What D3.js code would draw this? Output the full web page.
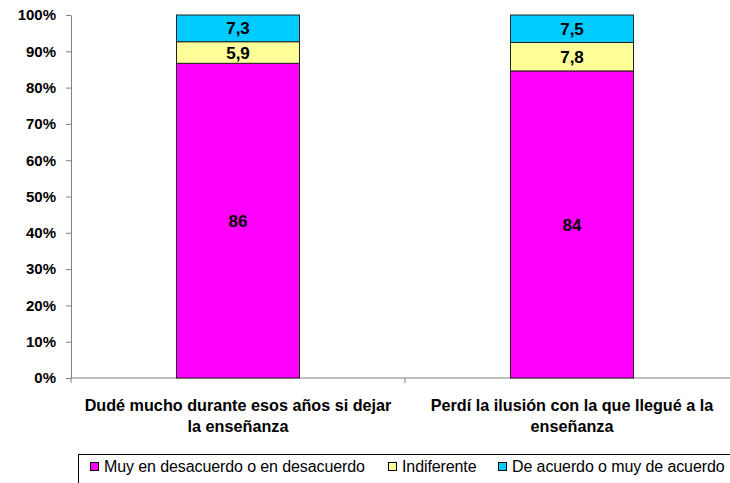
<!DOCTYPE html>
<head>
<meta charset="utf-8">
<style>
body { margin: 0; background: #fff; }
svg { display: block; font-family: "Liberation Sans", Arial, sans-serif; }
.axis path, .axis line { stroke: #808080; }
.axis text { font-weight: bold; font-size: 15px; fill: #000; }
</style>
</head>
<body>
<svg width="730" height="483"></svg>
<script src="https://d3js.org/d3.v7.min.js"></script>
<script>
var categories = [
  ["Dudé mucho durante esos años si dejar", "la enseñanza"],
  ["Perdí la ilusión con la que llegué a la", "enseñanza"]
];
var seriesNames = ["Muy en desacuerdo o en desacuerdo", "Indiferente", "De acuerdo o muy de acuerdo"];
var desacuerdo = [86, 84];
var indiferente = [5.9, 7.8];
var acuerdo = [7.3, 7.5];
var valueLabels = [["86", "84"], ["5,9", "7,8"], ["7,3", "7,5"]];
var colours = ["#FF00FF", "#FFFF99", "#00CCFF"];
var yTicks = [0, 0.1, 0.2, 0.3, 0.4, 0.5, 0.6, 0.7, 0.8, 0.9, 1];

var svg = d3.select("svg");
var plotLeft = 71, plotRight = 739, plotTop = 15, plotBottom = 378;

var rows = categories.map(function(c, i){
  return {i: i, s0: desacuerdo[i], s1: indiferente[i], s2: acuerdo[i]};
});
// 100% stacked: each bar normalised to its total
var stack = d3.stack().keys(["s0", "s1", "s2"]).offset(d3.stackOffsetExpand);
var layers = stack(rows);

var x = d3.scaleBand().domain([0, 1]).range([plotLeft, plotRight]);
var y = d3.scaleLinear().domain([0, 1]).range([plotBottom, plotTop]);
var barW = 123;

// y axis
svg.append("g")
  .attr("class", "axis")
  .attr("transform", "translate(" + plotLeft + ",0)")
  .call(d3.axisLeft(y).tickValues(yTicks).tickSize(5).tickSizeOuter(0).tickPadding(10).tickFormat(d3.format(".0%")));

// x axis with tick marks between categories
var xa = svg.append("g").attr("class", "axis");
xa.append("line").attr("x1", plotLeft).attr("x2", plotRight).attr("y1", plotBottom).attr("y2", plotBottom);
[plotLeft, x(1), plotRight].forEach(function(p){
  xa.append("line").attr("x1", p).attr("x2", p).attr("y1", plotBottom).attr("y2", plotBottom + 5);
});

// bars
var layer = svg.selectAll("g.layer").data(layers).enter().append("g").attr("class", "layer")
  .attr("fill", function(d, k){ return colours[k]; });
layer.selectAll("rect").data(function(d){ return d; }).enter().append("rect")
  .attr("x", function(d){ return x(d.data.i) + x.bandwidth()/2 - barW/2; })
  .attr("width", barW)
  .attr("y", function(d){ return y(d[1]); })
  .attr("height", function(d){ return y(d[0]) - y(d[1]); })
  .attr("stroke", "#222")
  .attr("stroke-width", 1);

// value labels
layers.forEach(function(l, k){
  svg.selectAll(null).data(l).enter().append("text")
    .attr("x", function(d){ return x(d.data.i) + x.bandwidth()/2; })
    .attr("y", function(d){ return (y(d[0]) + y(d[1]))/2; })
    .attr("dy", "0.36em")
    .attr("text-anchor", "middle")
    .attr("font-weight", "bold")
    .attr("font-size", "17px")
    .text(function(d){ return valueLabels[k][d.data.i]; });
});

// category labels
categories.forEach(function(c, i){
  var t = svg.append("text")
    .attr("text-anchor", "middle")
    .attr("font-weight", "bold")
    .attr("font-size", "16.2px");
  c.forEach(function(line, j){
    t.append("tspan").attr("x", x(i) + x.bandwidth()/2).attr("y", 411 + j*21).text(line);
  });
});

// legend
svg.append("rect").attr("x", 78.5).attr("y", 454.5).attr("width", 700).attr("height", 40)
  .attr("fill", "none").attr("stroke", "#000");
var legendX = [90, 388, 498];
seriesNames.forEach(function(n, k){
  svg.append("rect").attr("x", legendX[k] + 0.5).attr("y", 462.5).attr("width", 8).attr("height", 8)
    .attr("fill", colours[k]).attr("stroke", "#000");
  svg.append("text").attr("x", legendX[k] + 14).attr("y", 472)
    .attr("font-size", "16px")
    .attr("letter-spacing", "-0.1px")
    .text(n);
});
</script>
</body>
</html>
